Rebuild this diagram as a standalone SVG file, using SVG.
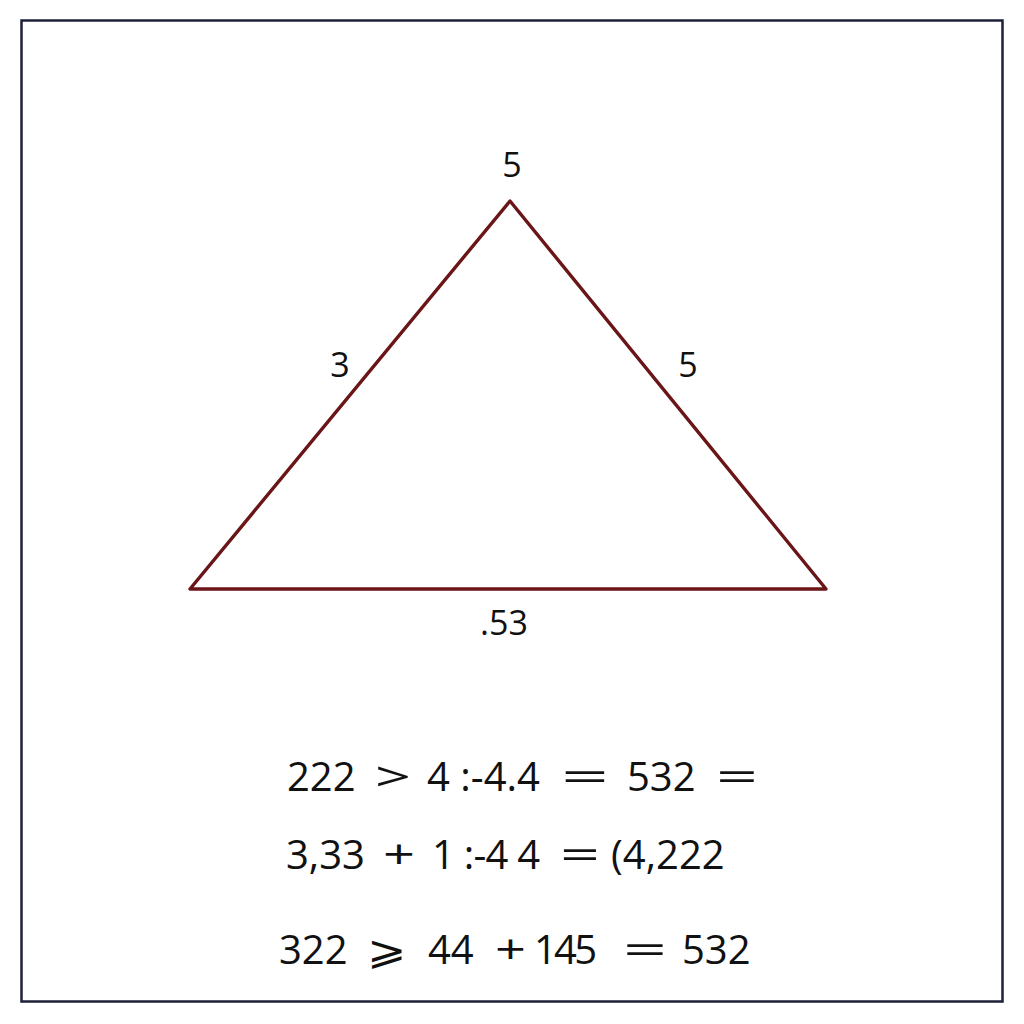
<svg xmlns="http://www.w3.org/2000/svg" width="1024" height="1024" viewBox="0 0 1024 1024">
<style>
.t{font-family:"Open Sans","Liberation Sans",sans-serif;fill:#111;}
.lab{font-size:34px;text-anchor:middle;}
.eq{font-size:40px;}
</style>
<rect width="1024" height="1024" fill="#ffffff"/>
<rect id="frame" x="21.5" y="20.5" width="981" height="981" fill="none" stroke="#1c2038" stroke-width="2.5"/>
<g id="connectors">
<polygon points="510,201 190,589 826,589" fill="none" stroke="#6a1518" stroke-width="3.4" stroke-linejoin="round"/>
</g>
<g id="labels">
<text class="t lab" x="512" y="177">5</text>
<text class="t lab" x="340" y="377">3</text>
<text class="t lab" x="688" y="377">5</text>
<text class="t lab" x="504" y="635">.53</text>
</g>
<g id="eq1" class="t eq">
<text x="287" y="791">222</text>
<text x="375" y="791" textLength="36" lengthAdjust="spacingAndGlyphs">&gt;</text>
<text x="427" y="791">4 :-4.4</text>
<text x="561" y="791" textLength="48" lengthAdjust="spacingAndGlyphs">=</text>
<text x="627" y="791">532</text>
<text x="716" y="791" textLength="42" lengthAdjust="spacingAndGlyphs">=</text>
</g>
<g id="eq2" class="t eq">
<text x="286" y="869">3,33</text>
<text x="383" y="869" textLength="32" lengthAdjust="spacingAndGlyphs">+</text>
<text x="432" y="869" textLength="108" lengthAdjust="spacing">1 :-4 4</text>
<text x="560" y="869" textLength="40" lengthAdjust="spacingAndGlyphs">=</text>
<text x="611" y="869">(4,222</text>
</g>
<g id="eq3" class="t eq">
<text x="279" y="964">322</text>
<text x="367" y="964" textLength="40" lengthAdjust="spacingAndGlyphs">⩾</text>
<text x="428" y="964">44</text>
<text x="495" y="964" textLength="31" lengthAdjust="spacingAndGlyphs">+</text>
<text x="534" y="964" textLength="63" lengthAdjust="spacing">145</text>
<text x="623" y="964" textLength="44" lengthAdjust="spacingAndGlyphs">=</text>
<text x="682" y="964">532</text>
</g>
</svg>
